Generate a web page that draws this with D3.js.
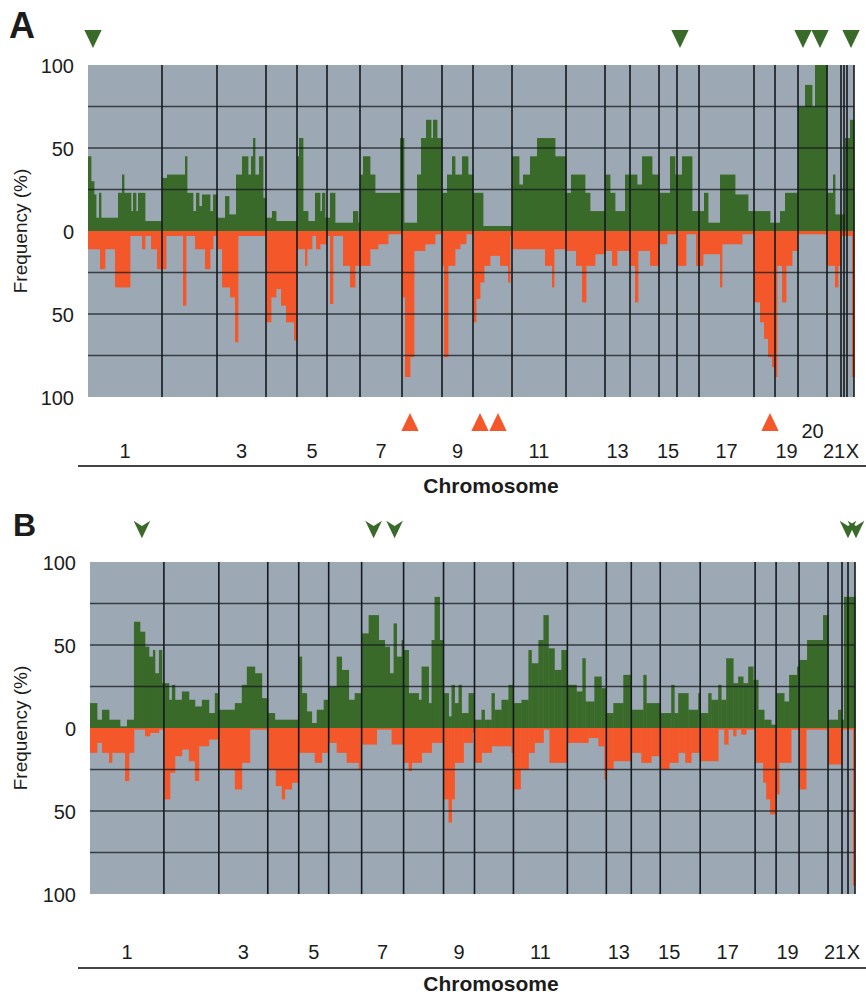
<!DOCTYPE html>
<html lang="en">
<head>
<meta charset="UTF-8">
<title>Frequency of copy number gains and losses by chromosome</title>
<script src="https://d3js.org/d3.v7.min.js"></script>
<style>
  body { margin: 0; background: #fff; }
  svg text { font-family: "Liberation Sans", Arial, sans-serif; fill: #1c1c1c; }
</style>
</head>
<body>
<div id="chart"></div>
<script>
// chromosomes, lengths in genome units
const chromNames = ["1","2","3","4","5","6","7","8","9","10","11","12","13","14","15","16","17","18","19","20","21","22","X"];
const chromLengths = [74,55,49,31,30,33,42,40,31,39,54,39,25,29,18,22,55,21,23,29,14,6,7];
const labelChroms = ["1","3","5","7","9","11","13","15","17","19","21","X"];
const yTickValues = [100, 50, 0, -50, -100];
const gridValues = [75, 50, 25, -25, -50, -75];

// frequency steps: [start position, percent]; each step runs to the next start
const gainA = [
  [0,45],[3,30],[6,22],[8,8],[11,23],[13,8],[30,23],[34,34],[36,23],[43,12],[45,23],[48,12],[50,23],[57,6],
  [74,32],[79,34],[97,45],[99,23],[105,12],[108,23],[111,15],[114,22],[122,12],[125,22],
  [129,8],[137,21],[141,10],[148,34],[154,45],[160,34],[163,45],[165,56],[167,34],[171,45],[175,20],
  [178,8],[184,12],[188,6],
  [209,45],[211,56],[215,12],[220,6],[227,23],[232,12],[234,23],[237,8],
  [239,8],[242,23],[247,5],[265,12],[270,5],
  [272,34],[275,45],[282,34],[287,23],[312,56],
  [314,56],[316,5],[329,34],[333,56],[338,67],[343,56],[345,67],[349,56],
  [354,23],[359,34],[364,45],[367,34],[374,45],[380,34],
  [385,23],[395,3],
  [424,45],[431,28],[435,34],[442,45],[449,56],[467,45],
  [478,23],[483,34],[497,23],[502,12],
  [517,34],[522,23],[527,12],[537,34],
  [542,34],[549,28],[554,45],[564,34],
  [571,23],[582,45],[587,34],
  [589,34],[594,45],[604,12],
  [611,12],[616,23],[620,5],[632,34],[647,22],[660,12],
  [666,12],[682,5],
  [687,5],[692,12],[697,23],
  [710,75],[717,88],[724,75],[727,100],
  [739,23],[745,34],[747,10],[753,10],[757,56],[762,67]
];
const lossA = [
  [0,11],[12,23],[17,11],[27,34],[42,3],[54,11],[57,3],[63,11],[69,23],
  [74,23],[78,3],[95,45],[98,3],[107,11],[117,23],[122,11],[125,3],
  [129,11],[134,34],[142,40],[147,67],[150,3],
  [178,55],[183,40],[188,35],[193,45],[198,55],[206,66],
  [209,11],[217,21],[219,11],[224,3],[228,11],[232,8],
  [239,3],[242,44],[245,3],[255,21],[262,34],[267,21],
  [272,21],[282,11],[290,8],[300,2],
  [314,40],[317,88],[322,76],[326,12],[337,8],[347,2],
  [354,21],[356,76],[360,21],[367,11],[372,8],[378,2],
  [385,55],[388,41],[392,31],[396,21],[402,15],[412,21],[420,31],[422,3],
  [424,11],[457,21],[464,34],[466,11],
  [478,12],[488,21],[494,43],[498,21],[507,14],
  [517,12],[524,21],[529,12],
  [542,21],[547,43],[550,12],[562,21],
  [571,8],[579,2],
  [589,21],[598,2],[608,21],
  [611,21],[615,14],[632,34],[634,8],[654,2],
  [666,43],[672,55],[676,65],[680,76],[684,82],
  [687,88],[689,21],[694,43],[698,21],[704,12],
  [710,2],
  [739,21],[747,34],[750,21],
  [753,3],[764,88]
];
const gainB = [
  [0,15],[7,5],[12,11],[19,5],[30,1],[37,5],[44,64],[50,58],[55,49],[59,43],[63,47],[65,33],[69,47],[72,27],
  [74,27],[79,17],[82,26],[85,17],[92,22],[99,17],[105,13],[112,17],[119,9],[125,21],
  [129,11],[145,15],[152,26],[157,37],[165,33],[172,18],
  [178,9],[185,5],
  [209,43],[212,21],[217,10],[222,3],[227,11],[234,17],
  [239,25],[247,43],[252,35],[259,17],[265,21],
  [272,57],[279,68],[289,53],[295,49],[300,33],[304,63],[307,43],[312,53],
  [314,47],[319,21],[329,17],[332,37],[339,15],[342,53],[345,79],[350,53],
  [354,21],[359,7],[362,26],[365,15],[369,26],[372,9],[379,21],[384,17],
  [385,5],[392,11],[395,5],[402,21],[405,11],[412,17],[419,26],
  [424,15],[432,17],[439,47],[442,39],[449,53],[454,68],[459,48],[465,35],[472,47],
  [478,26],[487,22],[493,42],[496,16],[505,31],[512,24],
  [517,9],[524,15],[534,32],
  [542,11],[554,32],[557,15],
  [571,9],[582,26],[585,9],
  [589,21],[599,11],[609,21],
  [611,9],[619,21],[622,17],[629,26],[632,17],[637,42],[644,27],[649,31],[654,27],[659,37],[664,29],
  [666,29],[669,11],[675,5],[682,2],
  [687,21],[695,16],[700,32],[708,37],
  [710,41],[718,53],[734,68],
  [739,5],[749,11],[752,5],[755,79]
];
const lossB = [
  [0,15],[7,9],[12,15],[19,21],[22,15],[35,32],[39,15],[44,1],[55,5],[60,3],[69,1],
  [74,43],[80,27],[85,17],[92,13],[99,20],[105,32],[109,11],[119,7],
  [129,25],[145,37],[152,21],[160,1],
  [178,25],[186,35],[192,43],[195,37],[202,33],
  [209,15],[225,21],[232,15],
  [239,9],[247,15],[257,21],[269,25],
  [272,10],[287,1],[302,10],
  [314,21],[319,26],[322,21],[332,15],[342,9],
  [354,43],[359,57],[362,43],[365,21],[374,9],[383,3],
  [385,21],[392,15],[402,11],[422,15],
  [424,37],[431,25],[439,15],[445,9],[454,1],[460,21],
  [478,9],[499,6],[509,11],[515,31],
  [517,25],[524,20],
  [542,15],[552,21],[562,17],
  [571,25],[580,21],
  [589,15],[596,21],[602,15],
  [611,20],[629,1],[635,10],[639,1],[644,5],[647,1],[652,4],[657,1],
  [666,21],[674,33],[677,43],[681,52],
  [687,40],[690,21],[702,1],
  [710,37],[717,1],
  [739,22],
  [753,1],[764,95]
];

// recurrent regions (genome position)
const gainMarksA = [5, 592, 715, 732, 763];
const lossMarksA = [322, 392, 410, 682];
const gainMarksB = [52, 284, 305, 759, 767];

const total = d3.sum(chromLengths);
const starts = chromLengths.map((d, i) => d3.sum(chromLengths.slice(0, i)));
const ends = starts.map((s, i) => s + chromLengths[i]);

const colors = { bg: "#9ca9b5", gain: "#3a6a29", loss: "#f4582a", line: "#14191c" };

const svg = d3.select("#chart").append("svg")
  .attr("width", 866).attr("height", 997);

function steps(arr) {
  return arr.map((d, i) => ({ x0: d[0], x1: i < arr.length - 1 ? arr[i + 1][0] : total, v: d[1] }));
}

// down-pointing notched arrowhead
const chevron = {
  draw(ctx, size) {
    const r = Math.sqrt(size) / 2;
    ctx.moveTo(-r, -r);
    ctx.lineTo(0, -r * 0.35);
    ctx.lineTo(r, -r);
    ctx.lineTo(0, r * 1.1);
    ctx.closePath();
  }
};

function drawPanel(p) {
  const x = d3.scaleLinear().domain([0, total]).range([p.left, p.right]);
  const y = d3.scaleLinear().domain([-100, 100]).range([p.bottom, p.top]);
  const g = svg.append("g");

  g.append("rect")
    .attr("x", x(0)).attr("y", y(100))
    .attr("width", x(total) - x(0)).attr("height", y(-100) - y(100))
    .attr("fill", colors.bg);

  g.append("g").selectAll("rect")
    .data(steps(p.gain).filter(d => d.v > 0))
    .join("rect")
    .attr("x", d => x(d.x0)).attr("y", d => y(d.v))
    .attr("width", d => x(d.x1) - x(d.x0) + 0.4)
    .attr("height", d => y(0) - y(d.v))
    .attr("fill", colors.gain);

  g.append("g").selectAll("rect")
    .data(steps(p.loss).filter(d => d.v > 0))
    .join("rect")
    .attr("x", d => x(d.x0)).attr("y", y(0))
    .attr("width", d => x(d.x1) - x(d.x0) + 0.4)
    .attr("height", d => y(-d.v) - y(0))
    .attr("fill", colors.loss);

  g.append("g").selectAll("line")
    .data(gridValues)
    .join("line")
    .attr("x1", x(0)).attr("x2", x(total))
    .attr("y1", d => y(d)).attr("y2", d => y(d))
    .attr("stroke", colors.line).attr("stroke-width", 1.3).attr("opacity", 0.75);

  g.append("g").selectAll("line")
    .data(ends.filter((e, i) => !p.skipBounds.includes(chromNames[i])).concat(p.extraBounds))
    .join("line")
    .attr("x1", d => x(d)).attr("x2", d => x(d))
    .attr("y1", y(100)).attr("y2", y(-100))
    .attr("stroke", colors.line).attr("stroke-width", 1.6);

  // y axis labels
  g.append("g").selectAll("text")
    .data(yTickValues)
    .join("text")
    .attr("x", p.left - 14).attr("y", d => y(d) + 8)
    .attr("text-anchor", "end").attr("font-size", 20)
    .text(d => Math.abs(d));

  g.append("text")
    .attr("transform", `translate(27,${y(0)}) rotate(-90)`)
    .attr("text-anchor", "middle").attr("font-size", 19)
    .text("Frequency (%)");

  g.append("text")
    .attr("x", p.letterX).attr("y", p.letterY)
    .attr("font-size", p.letterSize).attr("font-weight", "bold")
    .text(p.letter);

  // chromosome labels
  g.append("g").selectAll("text")
    .data(labelChroms)
    .join("text")
    .attr("x", d => { const i = chromNames.indexOf(d); return x(starts[i] + chromLengths[i] / 2) + (d === "X" ? 2 : 0); })
    .attr("y", p.labelY)
    .attr("text-anchor", "middle").attr("font-size", 20)
    .text(d => d);

  g.append("g").selectAll("text")
    .data(p.raised)
    .join("text")
    .attr("x", d => { const i = chromNames.indexOf(d); return x(starts[i] + chromLengths[i] / 2); })
    .attr("y", p.labelY - 20)
    .attr("text-anchor", "middle").attr("font-size", 20)
    .text(d => d);

  g.append("line")
    .attr("x1", 78).attr("x2", 866)
    .attr("y1", p.ruleY).attr("y2", p.ruleY)
    .attr("stroke", "#444").attr("stroke-width", 2);

  g.append("text")
    .attr("x", 491).attr("y", p.titleY)
    .attr("text-anchor", "middle").attr("font-size", 21).attr("font-weight", "bold")
    .text("Chromosome");

  // markers
  const gainSym = p.chevron ? d3.symbol().type(chevron).size(280) : d3.symbol().type(d3.symbolTriangle).size(130);
  g.append("g").selectAll("path")
    .data(p.gainMarks)
    .join("path")
    .attr("d", gainSym)
    .attr("transform", d => p.chevron
      ? `translate(${x(d)},${p.markTopY})`
      : `translate(${x(d)},${p.markTopY}) rotate(180) scale(1,1.2)`)
    .attr("fill", colors.gain);

  g.append("g").selectAll("path")
    .data(p.lossMarks)
    .join("path")
    .attr("d", d3.symbol().type(d3.symbolTriangle).size(130))
    .attr("transform", d => `translate(${x(d)},${p.markBottomY}) scale(1,1.2)`)
    .attr("fill", colors.loss);
}

drawPanel({
  letter: "A", letterX: 9, letterY: 38, letterSize: 36,
  left: 88, right: 854, top: 65, bottom: 397,
  gain: gainA, loss: lossA,
  gainMarks: gainMarksA, lossMarks: lossMarksA, chevron: false,
  markTopY: 36, markBottomY: 425,
  labelY: 458, raised: ["20"], ruleY: 466, titleY: 493,
  skipBounds: [], extraBounds: [756]
});

drawPanel({
  letter: "B", letterX: 13, letterY: 536, letterSize: 32,
  left: 90, right: 855, top: 562, bottom: 894,
  gain: gainB, loss: lossB,
  gainMarks: gainMarksB, lossMarks: [], chevron: true,
  markTopY: 529, markBottomY: 0,
  labelY: 959, raised: [], ruleY: 968, titleY: 991,
  skipBounds: ["15"], extraBounds: []
});
</script>
</body>
</html>
